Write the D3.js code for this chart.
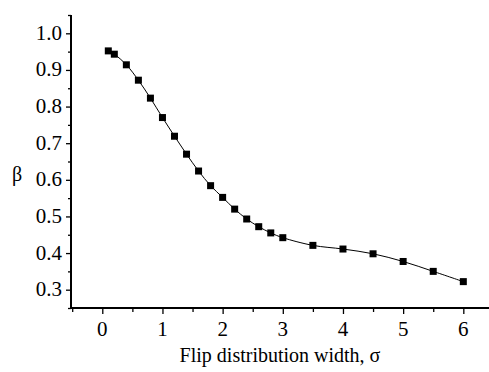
<!DOCTYPE html>
<html>
<head>
<meta charset="utf-8">
<script src="https://cdn.jsdelivr.net/npm/d3@7/dist/d3.min.js"></script>
<style>
  html, body { margin: 0; padding: 0; background: #fff; }
  svg { display: block; }
</style>
</head>
<body>
<svg id="chart" width="489" height="372"></svg>
<script>
const sigma = [0.1, 0.2, 0.4, 0.6, 0.8, 1.0, 1.2, 1.4, 1.6, 1.8, 2.0, 2.2, 2.4, 2.6, 2.8, 3.0, 3.5, 4.0, 4.5, 5.0, 5.5, 6.0];
const beta  = [0.952, 0.943, 0.914, 0.872, 0.823, 0.770, 0.719, 0.670, 0.624, 0.584, 0.552, 0.520, 0.493, 0.472, 0.455, 0.442, 0.421, 0.411, 0.398, 0.377, 0.350, 0.322];
const xMajorTicks = [0, 1, 2, 3, 4, 5, 6];
const xMinorTicks = [-0.5, 0.5, 1.5, 2.5, 3.5, 4.5, 5.5, 6.5];
const yMajorTicks = [0.3, 0.4, 0.5, 0.6, 0.7, 0.8, 0.9, 1.0];
const yMinorTicks = [0.25, 0.35, 0.45, 0.55, 0.65, 0.75, 0.85, 0.95, 1.05];
const xTitle = "Flip distribution width, σ";
const yTitle = "β";

const FONT = '"Liberation Serif", "Times New Roman", serif';
const svg = d3.select("#chart");
const x = d3.scaleLinear().domain([-0.52, 6.5]).range([71, 493.4]);
const y = d3.scaleLinear().domain([0.25, 1.05]).range([308, 15]);
const axisY0 = 308, axisX0 = 71;

// tick marks via d3 axes
svg.append("g").attr("transform", `translate(0,${axisY0})`)
  .call(d3.axisBottom(x).tickValues(xMinorTicks).tickSize(4).tickFormat(""));
svg.append("g").attr("transform", `translate(0,${axisY0})`)
  .call(d3.axisBottom(x).tickValues(xMajorTicks).tickSize(6).tickFormat(""));
svg.append("g").attr("transform", `translate(${axisX0},0)`)
  .call(d3.axisLeft(y).tickValues(yMinorTicks).tickSize(3).tickFormat(""));
svg.append("g").attr("transform", `translate(${axisX0},0)`)
  .call(d3.axisLeft(y).tickValues(yMajorTicks).tickSize(5).tickFormat(""));
svg.selectAll(".domain").remove();
svg.selectAll(".tick text").remove();
svg.selectAll(".tick line").attr("stroke", "#000").attr("stroke-width", 1.3);

// tick labels
svg.append("g").selectAll("text").data(xMajorTicks).enter().append("text")
  .attr("x", d => x(d)).attr("y", 336)
  .attr("text-anchor", "middle")
  .style("font-family", FONT).style("font-size", "21px")
  .text(d3.format("d"));
svg.append("g").selectAll("text").data(yMajorTicks).enter().append("text")
  .attr("x", 62).attr("y", d => y(d) + 6.5)
  .attr("text-anchor", "end")
  .style("font-family", FONT).style("font-size", "21px")
  .text(d3.format(".1f"));

// axis lines
svg.append("line").attr("x1", axisX0).attr("x2", 489).attr("y1", axisY0).attr("y2", axisY0)
  .attr("stroke", "#000").attr("stroke-width", 2);
svg.append("line").attr("x1", axisX0).attr("x2", axisX0).attr("y1", y(1.05)).attr("y2", axisY0 + 1)
  .attr("stroke", "#000").attr("stroke-width", 2);

// curve
const pts = sigma.map((s, i) => [s, beta[i]]);
svg.append("path")
  .datum(pts)
  .attr("fill", "none")
  .attr("stroke", "#000")
  .attr("stroke-width", 1)
  .attr("d", d3.line().x(d => x(d[0])).y(d => y(d[1])).curve(d3.curveCatmullRom.alpha(0.5)));

// markers
const ms = 7;
svg.selectAll("rect.pt").data(pts).enter().append("rect")
  .attr("class", "pt")
  .attr("x", d => x(d[0]) - ms / 2)
  .attr("y", d => y(d[1]) - ms / 2)
  .attr("width", ms).attr("height", ms)
  .attr("fill", "#000");

// titles
svg.append("text").attr("x", 280).attr("y", 362).attr("text-anchor", "middle")
  .style("font-family", FONT).style("font-size", "20px").text(xTitle);
svg.append("text").attr("x", 17).attr("y", 181).attr("text-anchor", "middle")
  .style("font-family", FONT).style("font-size", "20px").text(yTitle);
</script>
</body>
</html>
